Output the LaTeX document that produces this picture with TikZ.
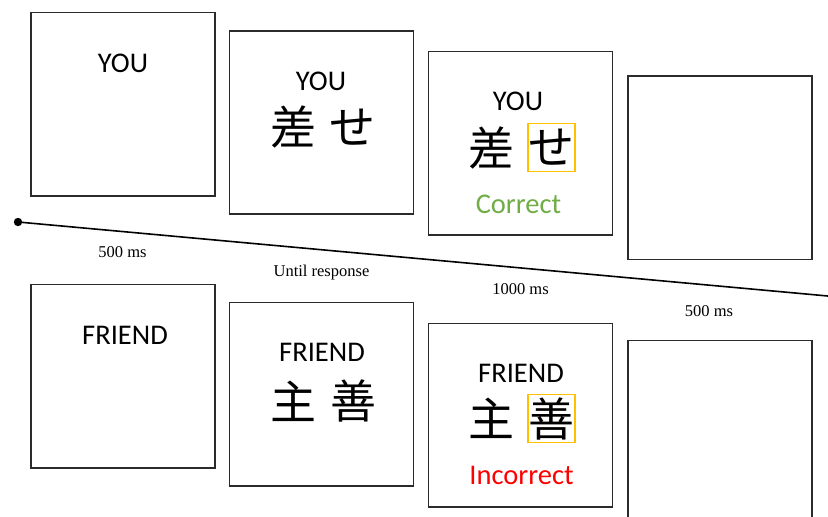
\documentclass[tikz,border=0pt]{standalone}
\usepackage{fontspec}
\setmainfont{Liberation Serif}
\newfontfamily\boxfont{Carlito}
\newfontfamily\cjk{Noto Sans CJK JP}
\definecolor{framegray}{HTML}{2B2B2B}
\definecolor{hiorange}{HTML}{FFC000}
\definecolor{okgreen}{HTML}{70AD47}
\definecolor{badred}{HTML}{FF0000}
\begin{document}
\begin{tikzpicture}[x=1pt,y=-1pt,
    screen/.style={draw=framegray, line width=1.6pt, minimum width=184pt, minimum height=183.5pt, inner sep=0pt},
    word/.style={font=\boxfont\fontsize{28.5}{30}\selectfont, inner sep=0pt},
    glyph/.style={font=\cjk\fontsize{46}{50}\selectfont, inner sep=0pt},
    pick/.style={draw=hiorange, line width=1.6pt, minimum width=47pt, minimum height=48pt, inner sep=0pt},
    timing/.style={font=\fontsize{16.5}{18}\selectfont, inner sep=0pt}]
    \clip (0,0) rectangle (828,517);
    % screens, top row (YOU) and bottom row (FRIEND)
    \node[screen] (y1) at (123.2,104.4) {};
    \node[screen] (y2) at (321.5,122.5) {};
    \node[screen] (y3) at (520.5,143.4) {};
    \node[screen] (y4) at (720.2,167.7) {};
    \node[screen] (f1) at (123.2,376.3) {};
    \node[screen] (f2) at (321.5,394.2) {};
    \node[screen] (f3) at (520.5,415.2) {};
    \node[screen] (f4) at (720.2,432.1) {};
    % YOU trial
    \node[word] (you1) at (123,63) {YOU};
    \node[word] (you2) at (321,81) {YOU};
    \node[glyph] (sa2) at (293.5,127) {差};
    \node[glyph] (se2) at (352.5,127) {せ};
    \node[word] (you3) at (518,101.5) {YOU};
    \node[glyph] (sa3) at (491,147.5) {差};
    \node[pick] (ok) at (551.2,147.5) {};
    \node[glyph] (se3) at (ok) {せ};
    \node[word, text=okgreen] (correct) at (518.5,204) {Correct};
    % FRIEND trial
    \node[word] (fr1) at (125,335) {FRIEND};
    \node[word] (fr2) at (322,352) {FRIEND};
    \node[glyph] (shu2) at (293.5,401) {主};
    \node[glyph] (zen2) at (353.5,401) {善};
    \node[word] (fr3) at (521,373) {FRIEND};
    \node[glyph] (shu3) at (491,418.5) {主};
    \node[pick] (bad) at (551.2,418.5) {};
    \node[glyph] (zen3) at (bad) {善};
    \node[word, text=badred] (incorrect) at (521.5,475) {Incorrect};
    % time line
    \coordinate (t0) at (18,222);
    \coordinate (t1) at (830,296.2);
    \fill (t0) circle (4.2);
    \draw[line width=1.6pt] (t0) -- (t1);
    \node[timing] (d1) at (122.5,252.5) {500 ms};
    \node[timing] (d2) at (321.5,272.5) {Until response};
    \node[timing] (d3) at (520.5,289.5) {1000 ms};
    \node[timing] (d4) at (709,311) {500 ms};
\end{tikzpicture}
\end{document}
